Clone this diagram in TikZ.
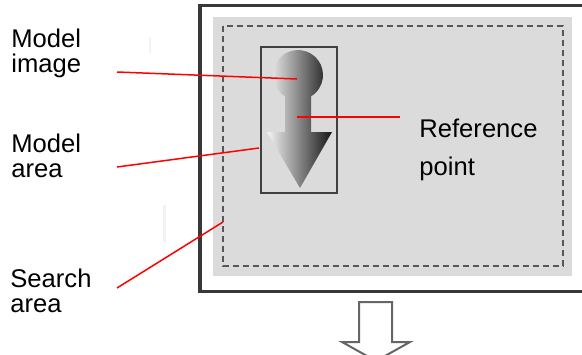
\documentclass[tikz,border=0pt]{standalone}
\usepackage{fontspec}
\setmainfont{Liberation Sans}
\tikzset{
  lbl/.style={anchor=north west, inner sep=0pt, align=left, font=\fontsize{12.8}{12.2}\selectfont},
  pointer/.style={draw=red, line width=0.75pt},
  outerframe/.style={draw=black!78, line width=1.6pt},
  searchzone/.style={fill=black!14},
  searchedge/.style={draw=black!66, line width=1.15pt, dash pattern=on 3pt off 2pt},
  modelbox/.style={draw=black!75, line width=1pt, inner sep=0pt},
  hollowarrow/.style={draw=black!60, line width=1pt, fill=white, line join=miter}
}
\begin{document}
\begin{tikzpicture}[x=0.5pt,y=0.5pt]
  \clip (0,0) rectangle (582,-354);
  % faint marks left of the frame
  \draw[blue!6, line width=1pt] (150,-38) -- (150,-53);
  \draw[black!5, line width=1.5pt] (164,-205) -- (164,-242);
  % frame and search area
  \draw[outerframe] (200,-5.5) rectangle (620,-291.5);
  \fill[searchzone] (213,-17) rectangle (572,-276);
  \draw[searchedge] (223,-26) rectangle (563,-266);
  % model area and model image
  \node[modelbox, minimum width=38pt, minimum height=73pt] (mbox) at (299,-120) {};
  \shade[left color=black!4, middle color=black!38, right color=black!92]
    (311,-96.4) -- (311,-132) -- (332,-132) -- (300,-188) -- (267,-132) -- (285,-132) -- (285,-96.4)
    arc[start angle=238.7, end angle=-58.7, radius=25] -- cycle;
  % labels
  \node[lbl] (mimg) at (11,-28.7) {Model\\image};
  \node[lbl] (marea) at (11,-133.7) {Model\\area};
  \node[lbl] (sarea) at (10,-268.7) {Search\\area};
  \node[lbl, font=\fontsize{12.8}{19}\selectfont] (refpt) at (419,-118.7) {Reference\\point};
  % pointer lines
  \coordinate (imgfoot) at (117,-72);
  \coordinate (imgtip) at (297,-79);
  \coordinate (reffoot) at (400,-117);
  \coordinate (reftip) at (297,-117);
  \coordinate (areafoot) at (117,-167);
  \coordinate (areatip) at (259,-148);
  \coordinate (searchfoot) at (117,-288);
  \coordinate (searchtip) at (223,-222);
  \draw[pointer] (imgfoot) -- (imgtip);
  \draw[pointer] (reffoot) -- (reftip);
  \draw[pointer] (areafoot) -- (areatip);
  \draw[pointer] (searchfoot) -- (searchtip);
  % output arrow below the frame
  \draw[hollowarrow] (359,-302) -- (392,-302) -- (392,-342) -- (410,-342) -- (376,-361)
    -- (342,-342) -- (359,-342) -- cycle;
\end{tikzpicture}
\end{document}
